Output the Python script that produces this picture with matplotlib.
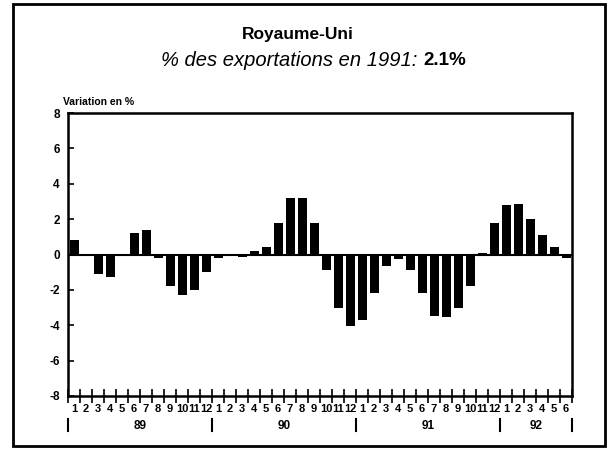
import numpy as np
import matplotlib
matplotlib.use("Agg")
from matplotlib import pyplot as plt
from matplotlib.patches import Rectangle

plt.rcParams['font.family'] = ['Liberation Sans', 'DejaVu Sans']

# monthly change in %, Jan 89 .. Jun 92
values_89 = [0.8, -0.05, -1.1, -1.3, -0.05, 1.2, 1.4, -0.2, -1.8, -2.3, -2.0, -1.0]
values_90 = [-0.2, 0.05, -0.15, 0.2, 0.4, 1.8, 3.2, 3.2, 1.8, -0.9, -3.0, -4.05]
values_91 = [-3.7, -2.2, -0.65, -0.25, -0.9, -2.2, -3.45, -3.55, -3.05, -1.8, 0.1, 1.8]
values_92 = [2.8, 2.85, 2.0, 1.1, 0.4, -0.2]
values = values_89 + values_90 + values_91 + values_92

month_labels = [str(m) for m in range(1, 13)] * 3 + [str(m) for m in range(1, 7)]
years = ["89", "90", "91", "92"]
year_starts = [0, 12, 24, 36, 42]
y_ticks = [8, 6, 4, 2, 0, -2, -4, -6, -8]

fig = plt.figure(figsize=(6.12, 4.49), dpi=100)
ax = fig.add_axes([68/612, 1-396/449, 504/612, 283/449])

x = np.arange(len(values)) + 0.5
ax.bar(x, values, width=0.75, color="black")
ax.axhline(0, color="black", lw=1.5)

ax.set_xlim(0, len(values))
ax.set_ylim(-8, 8)
ax.set_yticks(y_ticks)
ax.set_yticklabels([str(v) for v in y_ticks], fontsize=8.5, fontweight="bold")
ax.tick_params(axis="y", direction="in", length=4, width=1.2, pad=6)

# month ticks cross the axis, labels sit between them
ax.set_xticks(np.arange(len(values) + 1))
ax.set_xticklabels([])
ax.set_xticks(x, minor=True)
ax.set_xticklabels(month_labels, minor=True, fontsize=8, fontweight="bold")
ax.tick_params(axis="x", which="major", direction="inout", length=10, width=1.2)
ax.tick_params(axis="x", which="minor", length=0, pad=6)

for sp in ax.spines.values():
    sp.set_linewidth(1.8)

# year row under the months
trans = ax.get_xaxis_transform()
for s in year_starts:
    ax.plot([s, s], [-0.08, -0.125], color="black", lw=1.5, transform=trans, clip_on=False)
for i, yr in enumerate(years):
    mid = (year_starts[i] + year_starts[i + 1]) / 2
    ax.text(mid, -0.105, yr, transform=trans, ha="center", va="center",
            fontsize=8.5, fontweight="bold")

# titles
fig.text(298/612, 1 - 34/449, "Royaume-Uni", ha="center", va="center",
         fontsize=12.5, fontweight="bold")
fig.text(423/612, 1 - 60/449, "% des exportations en 1991: ", ha="right",
         va="center", fontsize=14.5, fontstyle="italic")
fig.text(423/612, 1 - 60/449, "2.1%", ha="left", va="center",
         fontsize=13.5, fontweight="bold")
fig.text(63/612, 1 - 102/449, "Variation en %", ha="left", va="center",
         fontsize=7.5, fontweight="bold")

# outer frame
fig.add_artist(Rectangle((13/612, 1 - 446/449), 592/612, 442/449,
                         transform=fig.transFigure, fill=False,
                         edgecolor="black", lw=2))

fig.savefig("out.png", dpi=100)
